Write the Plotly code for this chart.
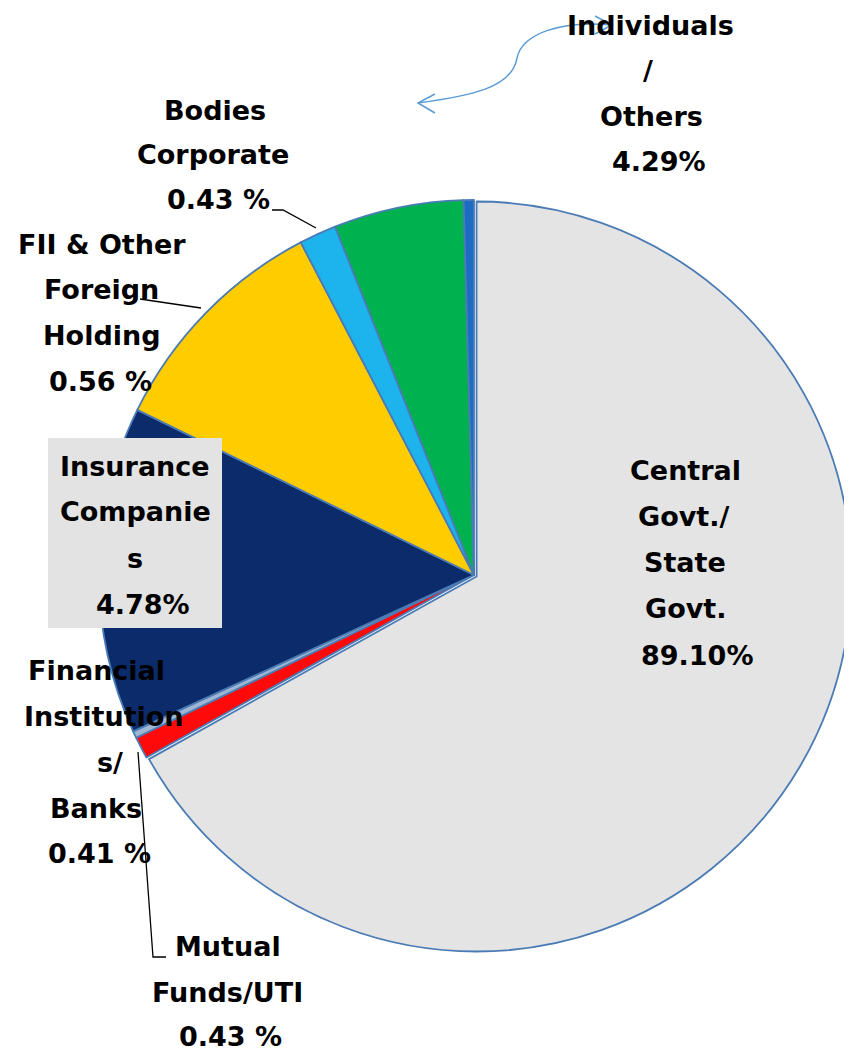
import plotly.graph_objects as go

# page body has an 8px default margin: keep the figure inside the window
OFF = 8
W, H = 852 - OFF, 1055 - OFF

# ---- data (slice sizes as drawn, clockwise from 12 o'clock) ----
categories = [
    "Central Govt./State Govt.",
    "Mutual Funds/UTI",
    "Financial Institutions/Banks",
    "Insurance Companies",
    "FII & Other Foreign Holding",
    "Bodies Corporate",
    "Individuals/Others",
    "Other",
]
slice_share = [66.9, 0.95, 0.3, 14.1, 10.1, 1.6, 5.6, 0.44]
slice_colors = ["#e4e4e4", "#ff0a0a", "#9fb6d3", "#0b2b6b",
                "#ffcc00", "#1db4ee", "#00b24f", "#1c6cc4"]
slice_pull = [0.008, 0, 0, 0, 0, 0, 0, 0]

# label texts (as printed on the chart)
lbl_central = ["Central", "Govt./", "State", "Govt.", "89.10%"]
lbl_insurance = ["Insurance", "Companie", "s", "4.78%"]
lbl_individuals = ["Individuals", "/", "Others", "4.29%"]
lbl_bodies = ["Bodies", "Corporate", "0.43 %"]
lbl_fii = ["FII & Other", "Foreign", "Holding", "0.56 %"]
lbl_fin = ["Financial", "Institution", "s/", "Banks", "0.41 %"]
lbl_mutual = ["Mutual", "Funds/UTI", "0.43 %"]


def px(x):
    return (x - OFF) / W


def py(y):
    return 1 - (y - OFF) / H


fig = go.Figure()
fig.add_trace(go.Pie(
    labels=categories,
    values=slice_share,
    sort=False,
    direction="clockwise",
    rotation=0,
    pull=slice_pull,
    textinfo="none",
    hoverinfo="label+percent",
    showlegend=False,
    marker=dict(colors=slice_colors, line=dict(color="#4a7bb5", width=1.8)),
    domain=dict(x=[px(96), 1.0], y=[py(975), py(175)]),
))

shapes = []
# grey box behind the Insurance label
shapes.append(dict(type="rect", xref="paper", yref="paper",
                   x0=px(48), x1=px(222), y0=py(628), y1=py(438),
                   fillcolor="#e3e3e3", line=dict(width=0), layer="above"))


def polyline(pts, color="black", width=1.3):
    d = "M " + " L ".join(f"{px(a):.5f},{py(b):.5f}" for a, b in pts)
    shapes.append(dict(type="path", xref="paper", yref="paper", path=d,
                       line=dict(color=color, width=width), layer="above"))


# leader lines
polyline([(272, 210), (283, 210), (316, 228)])
polyline([(140, 299), (201, 308)])
polyline([(138, 752), (153, 957), (166, 957)])

# curved double arrow near "Individuals / Others"
blue = "#5b9bd5"
curve = (f"M {px(612):.5f},{py(25):.5f} "
         f"C {px(560):.5f},{py(20):.5f} {px(522):.5f},{py(34):.5f} {px(517):.5f},{py(58):.5f} "
         f"C {px(512):.5f},{py(88):.5f} {px(470):.5f},{py(96):.5f} {px(418):.5f},{py(103):.5f}")
shapes.append(dict(type="path", xref="paper", yref="paper", path=curve,
                   line=dict(color=blue, width=1.5), layer="above"))
polyline([(595, 16), (612, 25), (595, 34)], color=blue, width=1.5)
polyline([(435, 94), (418, 103), (435, 113)], color=blue, width=1.5)

fig.update_layout(shapes=shapes)

FONT = dict(family="'DejaVu Sans', sans-serif", size=27, color="black")


def add_block(lines, xs, ys):
    for t, x, y in zip(lines, xs, ys):
        fig.add_annotation(text=f"<b>{t}</b>", x=px(x), y=py(y), xref="paper", yref="paper",
                           xanchor="center", yanchor="middle", showarrow=False, font=FONT)


add_block(lbl_central, [685, 683, 685, 685, 697], [470, 516, 562, 608, 655])
add_block(lbl_insurance, [135, 135, 135, 143], [466, 512, 558, 604])
add_block(lbl_individuals, [650, 648, 651, 659], [25, 71, 116, 162])
add_block(lbl_bodies, [215, 213, 218], [110, 155, 200])
add_block(lbl_fii, [102, 101, 102, 100], [244, 289, 335, 381])
add_block(lbl_fin, [96, 104, 110, 96, 99], [670, 716, 762, 808, 853])
add_block(lbl_mutual, [228, 227, 230], [946, 992, 1036])

fig.update_layout(
    width=W, height=H,
    margin=dict(l=0, r=0, t=0, b=0),
    paper_bgcolor="white", plot_bgcolor="white",
)

fig.write_html("out.html")
